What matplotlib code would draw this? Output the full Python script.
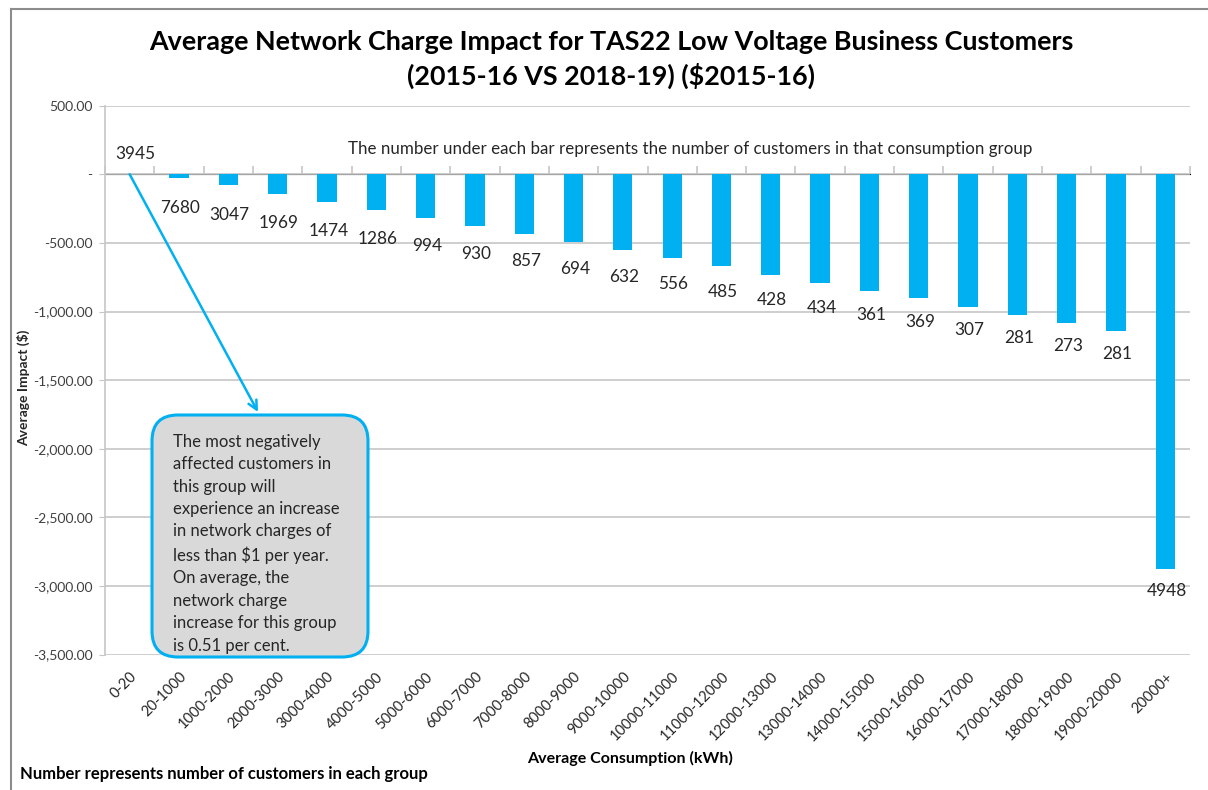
import matplotlib
matplotlib.use("Agg")
import matplotlib.pyplot as plt
import matplotlib.transforms as mtransforms
from matplotlib.patches import FancyBboxPatch
from matplotlib.lines import Line2D
from matplotlib.ticker import FuncFormatter

plt.rcParams['font.family'] = ['Lato', 'DejaVu Sans']

categories = ["0-20", "20-1000", "1000-2000", "2000-3000", "3000-4000", "4000-5000",
              "5000-6000", "6000-7000", "7000-8000", "8000-9000", "9000-10000",
              "10000-11000", "11000-12000", "12000-13000", "13000-14000", "14000-15000",
              "15000-16000", "16000-17000", "17000-18000", "18000-19000", "19000-20000",
              "20000+"]
impact = [0.5, -24, -80, -144, -200, -263, -321, -377, -436, -496, -555, -613,
          -672, -735, -791, -849, -905, -966, -1024, -1083, -1144, -2876]
customers = [3945, 7680, 3047, 1969, 1474, 1286, 994, 930, 857, 694, 632, 556,
             485, 428, 434, 361, 369, 307, 281, 273, 281, 4948]
y_ticks = [500, 0, -500, -1000, -1500, -2000, -2500, -3000, -3500]

W, H = 1208, 790
fig = plt.figure(figsize=(W / 100, H / 100), dpi=100)

ax_l, ax_r, ax_t, ax_b = 105, 1190, 105.7, 654.5
ax = fig.add_axes([ax_l / W, 1 - ax_b / H, (ax_r - ax_l) / W, (ax_b - ax_t) / H])

BLUE = '#00B0F0'
GRID = '#c6c6c6'
TXT = '#262626'
x = list(range(len(categories)))
ax.bar(x, impact, width=0.39, color=BLUE, zorder=3)
ax.set_xlim(-0.5, len(categories) - 0.5)
ax.set_ylim(-3500, 500)

ax.set_yticks(y_ticks)
ax.yaxis.set_major_formatter(FuncFormatter(lambda v, p: '-' if v == 0 else f"{v:,.2f}"))
ax.tick_params(axis='y', length=4, color=GRID, labelsize=10, labelcolor='#404040', pad=5)
ax.grid(axis='y', color=GRID, linewidth=1.2, zorder=0)

ax.set_xticks(x)
ax.set_xticklabels(categories, rotation=45, ha='right', rotation_mode='anchor',
                   fontsize=10.5, color=TXT)
ax.tick_params(axis='x', length=0, pad=11)

for s in ['top', 'right', 'bottom']:
    ax.spines[s].set_visible(False)
ax.spines['left'].set_color(GRID)
ax.spines['left'].set_linewidth(1.2)

# category axis crossing at zero
sec = ax.secondary_xaxis(3500 / 4000)
sec.set_xticks([i - 0.5 for i in range(len(categories) + 1)])
sec.set_xticklabels([])
sec.tick_params(axis='x', direction='out', length=6, color=GRID, width=1.2)
sec.spines['bottom'].set_color(GRID)
sec.spines['bottom'].set_linewidth(1.2)

# data labels
n = len(categories)
for xi, v, c in zip(x, impact, customers):
    if v >= 0:
        ax.annotate(str(c), (xi, v), xytext=(4, 9), textcoords='offset points',
                    ha='center', va='bottom', fontsize=12.4, color=TXT, zorder=5)
    else:
        gap_px = 22 - 8 * (xi - 1) / (n - 2)
        ax.annotate(str(c), (xi, v), xytext=(1, -gap_px * 0.72), textcoords='offset points',
                    ha='center', va='top', fontsize=12.4, color=TXT, zorder=5)

ax.text((690 - ax_l) / (ax_r - ax_l), 182,
        "The number under each bar represents the number of customers in that consumption group",
        transform=mtransforms.blended_transform_factory(ax.transAxes, ax.transData),
        ha='center', va='center', fontsize=12.2, color=TXT)

# title
fig.text(611 / W, 1 - 42 / H, "Average Network Charge Impact for TAS22 Low Voltage Business Customers",
         ha='center', va='center', fontsize=19.4, fontweight='bold', color='#000000')
fig.text(611 / W, 1 - 76 / H, "(2015-16 VS 2018-19) ($2015-16)",
         ha='center', va='center', fontsize=19.4, fontweight='bold', color='#000000')

fig.text(24 / W, 1 - 388 / H, "Average Impact ($)", rotation=90, ha='center', va='center',
         fontsize=10, fontweight='bold', color=TXT)
fig.text(630 / W, 1 - 758 / H, "Average Consumption (kWh)", ha='center', va='center',
         fontsize=11.5, fontweight='bold', color='#000000')
fig.text(20 / W, 1 - 774 / H, "Number represents number of customers in each group", ha='left', va='center',
         fontsize=12, fontweight='bold', color='#000000')

# callout box
ident = mtransforms.IdentityTransform()
bx0, bx1, by0, by1 = 152, 368, 415, 657
box = FancyBboxPatch((bx0 + 22, H - by1 + 22), (bx1 - bx0) - 44, (by1 - by0) - 44,
                     boxstyle="round,pad=22,rounding_size=26", transform=ident,
                     facecolor='#d9d9d9', edgecolor=BLUE, linewidth=2.2, zorder=10)
fig.patches.append(box)
box_text = ("The most negatively\naffected customers in\nthis group will\nexperience an increase\n"
            "in network charges of\nless than $1 per year.\nOn average, the\nnetwork charge\n"
            "increase for this group\nis 0.51 per cent.")
fig.text(173 / W, 1 - 434 / H, box_text, ha='left', va='top', fontsize=12, color=TXT,
         linespacing=1.49, zorder=11)

# arrow from the 0-20 bar to the box
ax.annotate('', xy=(258 / W, 1 - 412 / H), xycoords='figure fraction',
            xytext=(0, 0), textcoords='data',
            arrowprops=dict(arrowstyle='->', color=BLUE, lw=1.8, mutation_scale=16,
                            shrinkA=0, shrinkB=0), zorder=9)

# outer chart border (top and left)
fig.add_artist(Line2D([11 / W, 1], [1 - 9 / H, 1 - 9 / H], transform=fig.transFigure,
                      color='#8c8c8c', linewidth=1.5))
fig.add_artist(Line2D([11 / W, 11 / W], [0, 1 - 9 / H], transform=fig.transFigure,
                      color='#8c8c8c', linewidth=1.5))

fig.savefig("out.png", dpi=100)
